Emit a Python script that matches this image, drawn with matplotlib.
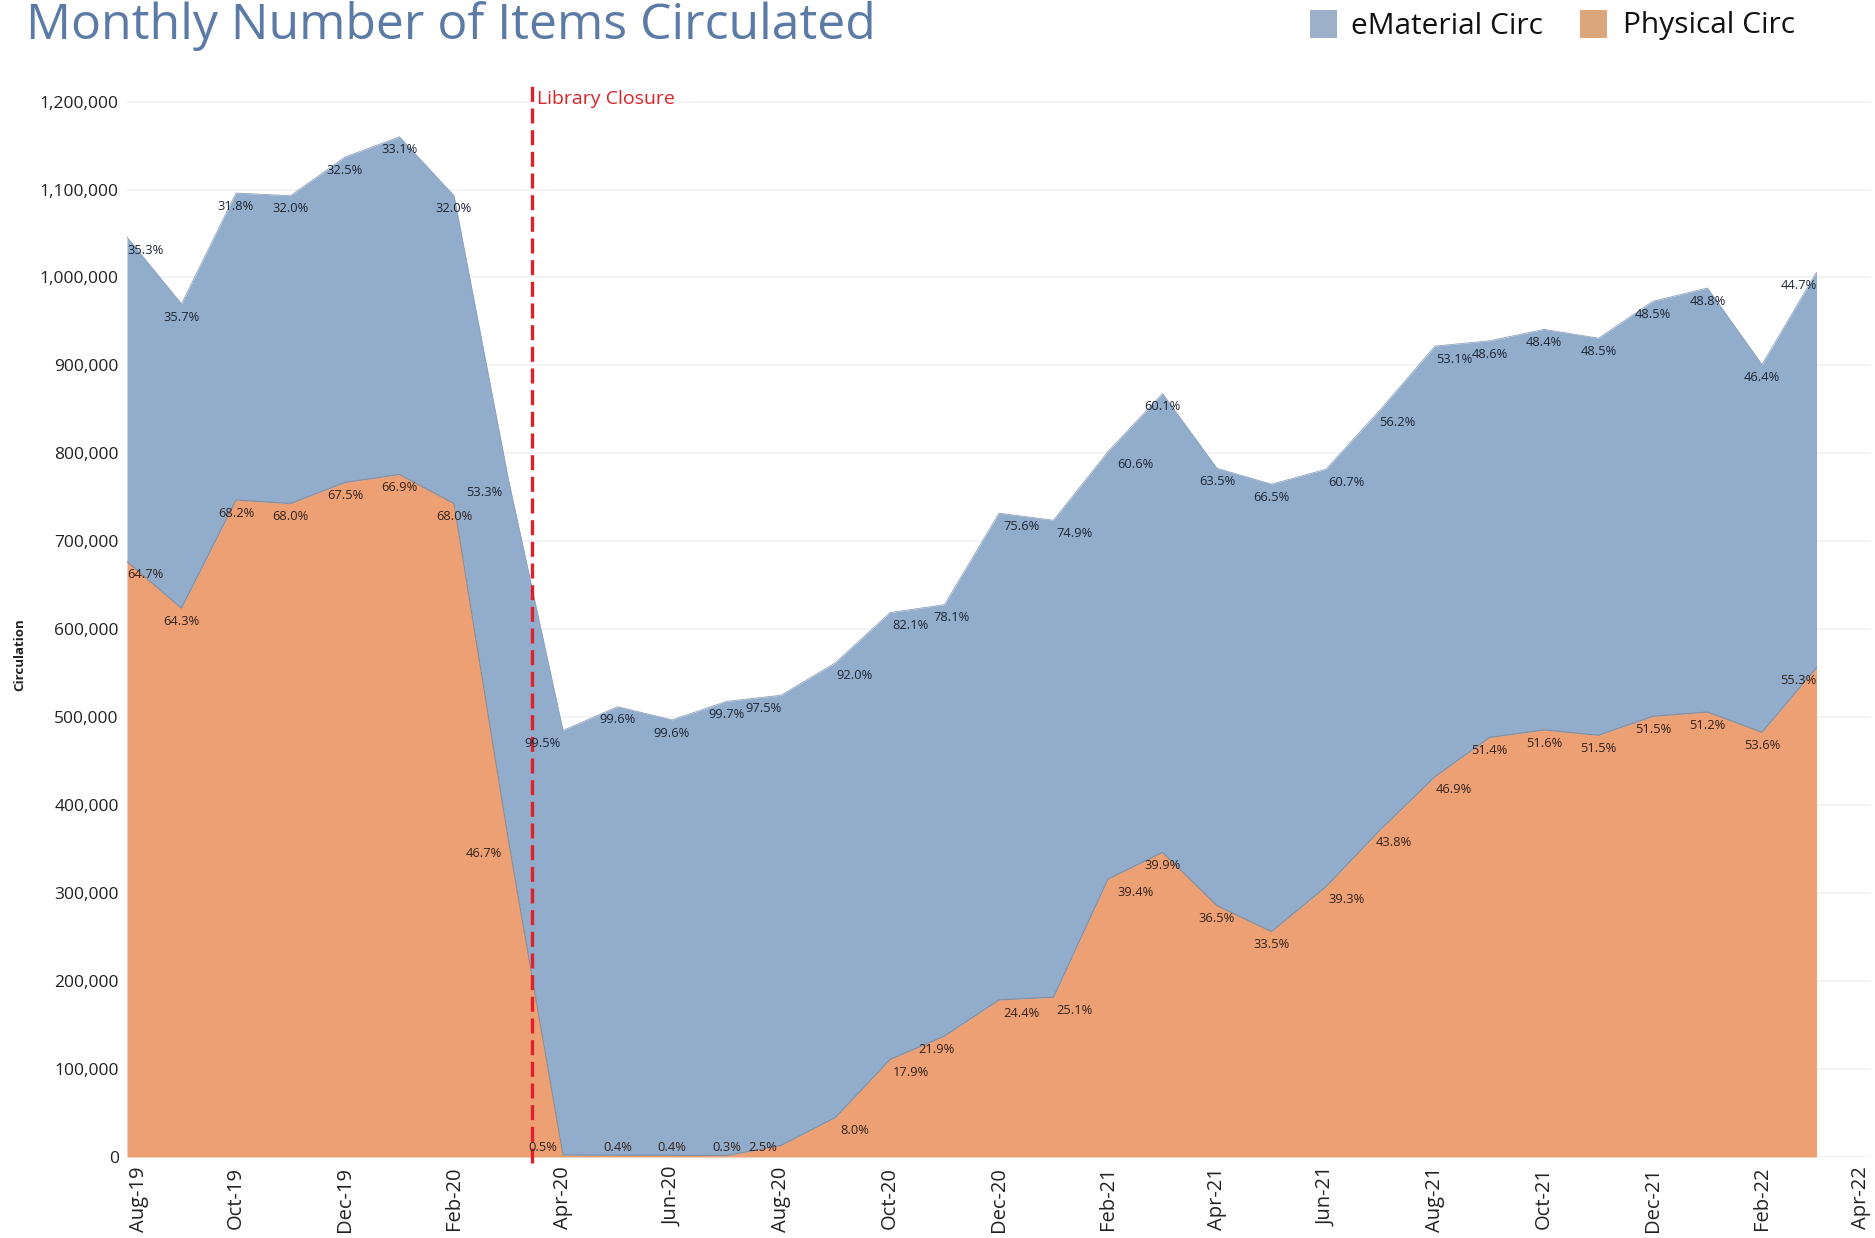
import numpy as np
import matplotlib
matplotlib.use("Agg")
import matplotlib.pyplot as plt
import matplotlib.transforms as mtransforms
from matplotlib.patches import Rectangle
from matplotlib.ticker import FuncFormatter

# monthly circulation, Aug-19 .. Mar-22
months = ["Aug-19", "Sep-19", "Oct-19", "Nov-19", "Dec-19", "Jan-20", "Feb-20", "Mar-20",
          "Apr-20", "May-20", "Jun-20", "Jul-20", "Aug-20", "Sep-20", "Oct-20", "Nov-20",
          "Dec-20", "Jan-21", "Feb-21", "Mar-21", "Apr-21", "May-21", "Jun-21", "Jul-21",
          "Aug-21", "Sep-21", "Oct-21", "Nov-21", "Dec-21", "Jan-22", "Feb-22", "Mar-22"]

physical = [677000, 624000, 747000, 743000, 767000, 776000, 743000, 360000,
            2400, 2000, 2000, 1600, 13100, 45000, 110800, 137500,
            178600, 181700, 316000, 346300, 285800, 256300, 307300, 372300,
            432400, 477000, 485600, 479500, 501100, 505900, 482900, 556300]

ematerial = [369000, 346000, 349000, 350000, 370000, 384000, 350000, 410000,
             482600, 510000, 495000, 516400, 511900, 517000, 508200, 490500,
             553400, 542300, 486000, 521700, 497200, 508700, 474700, 477700,
             489600, 451000, 455400, 451500, 471900, 482100, 418100, 449700]

physical_pct = [64.7, 64.3, 68.2, 68.0, 67.5, 66.9, 68.0, 46.7,
                0.5, 0.4, 0.4, 0.3, 2.5, 8.0, 17.9, 21.9,
                24.4, 25.1, 39.4, 39.9, 36.5, 33.5, 39.3, 43.8,
                46.9, 51.4, 51.6, 51.5, 51.5, 51.2, 53.6, 55.3]

ematerial_pct = [35.3, 35.7, 31.8, 32.0, 32.5, 33.1, 32.0, 53.3,
                 99.5, 99.6, 99.6, 99.7, 97.5, 92.0, 82.1, 78.1,
                 75.6, 74.9, 60.6, 60.1, 63.5, 66.5, 60.7, 56.2,
                 53.1, 48.6, 48.4, 48.5, 48.5, 48.8, 46.4, 44.7]

tick_labels = ["Aug-19", "Oct-19", "Dec-19", "Feb-20", "Apr-20", "Jun-20", "Aug-20", "Oct-20",
               "Dec-20", "Feb-21", "Apr-21", "Jun-21", "Aug-21", "Oct-21", "Dec-21", "Feb-22",
               "Apr-22"]

closure_pos = 7.43  # mid-March 2020

plt.rcParams['font.family'] = ['Open Sans', 'DejaVu Sans']

BLUE = '#92accb'
ORANGE = '#eca074'

W, H = 1875, 1238
fig = plt.figure(figsize=(W / 100, H / 100), dpi=100)
ax = fig.add_axes([127 / W, 1 - 1157 / H, (1871 - 127) / W, (1157 - 84) / H])

x = np.arange(len(months))
phys = np.array(physical)
total = phys + np.array(ematerial)

ax.fill_between(x, 0, phys, color=ORANGE, lw=0, zorder=2)
ax.fill_between(x, phys, total, color=BLUE, lw=0, zorder=2)
ax.plot(x, phys, color='#8a8f9a', lw=0.9, zorder=3)
ax.plot(x, total, color='#8fa3bd', lw=0.6, zorder=3)

ax.set_xlim(0, 32)
ax.set_ylim(0, 1220000)
ax.set_yticks(np.arange(0, 1200001, 100000))
ax.yaxis.set_major_formatter(FuncFormatter(lambda v, p: f"{int(v):,}"))
ax.set_xticks(np.arange(0, 33, 2))
ax.set_xticklabels(tick_labels, rotation=90)
ax.tick_params(axis='both', length=0)
ax.tick_params(axis='y', labelsize=12.5, pad=6, labelcolor='#222222')
ax.tick_params(axis='x', labelsize=14.5, pad=7, labelcolor='#222222')
ax.grid(axis='y', color='#f1f1f1', lw=1.2, zorder=0)
for s in ax.spines.values():
    s.set_visible(False)

# keep first/last tick label inside the view like the original
xt = ax.get_xticklabels()
xt[0].set_transform(xt[0].get_transform() + mtransforms.ScaledTranslation(0.12, 0, fig.dpi_scale_trans))
xt[-1].set_transform(xt[-1].get_transform() + mtransforms.ScaledTranslation(-0.10, 0, fig.dpi_scale_trans))

fig.text(20 / W, 1 - 655 / H, "Circulation", rotation=90, fontsize=9.5, fontweight='bold',
         ha='center', va='center', color='#222222')

# percentage labels, placed just under each point (kept above the baseline);
# some are nudged sideways off the steep segments, as in the original
n = len(months)
LAB_DROP = 15000
LAB_MIN = 11000
nudge_top = {7: -0.45, 8: -0.37, 12: -0.33, 13: 0.35, 14: 0.38, 15: 0.13, 16: 0.42,
             17: 0.38, 18: 0.5, 22: 0.38, 23: 0.3, 24: 0.35}
nudge_bot = dict(nudge_top)
nudge_bot[15] = -0.15
nudge_bot[23] = 0.24
for i in range(n):
    if i == 0:
        ha = 'left'
    elif i == n - 1:
        ha = 'right'
    else:
        ha = 'center'
    ax.text(x[i] + nudge_top.get(i, 0), total[i] - LAB_DROP, f"{ematerial_pct[i]:.1f}%",
            ha=ha, va='center', fontsize=9.3, color='#1e2633', zorder=5)
    ax.text(x[i] + nudge_bot.get(i, 0), max(phys[i] - LAB_DROP, LAB_MIN),
            f"{physical_pct[i]:.1f}%", ha=ha, va='center', fontsize=9.3,
            color='#33221a', zorder=5)

# library closure marker
ax.axvline(closure_pos, ymin=-0.006, ymax=1, color='#e0202a', lw=2.4,
           ls=(0, (4.5, 2)), zorder=4, clip_on=False)
ax.annotate("Library Closure", xy=(closure_pos, 1203000), xytext=(4, 0),
            textcoords='offset points', ha='left', va='center', fontsize=14,
            color='#d9252c', zorder=5)

# title and legend
fig.text(26 / W, 1 - 39 / H, "Monthly Number of Items Circulated", fontsize=36,
         color='#5b7ba6', ha='left', va='baseline')

for (x0, x1, col, label, tx) in [(1310, 1337, '#9db0ca', "eMaterial Circ", 1351),
                                 (1580, 1607, '#dca67d', "Physical Circ", 1623)]:
    fig.patches.append(Rectangle((x0 / W, 1 - 38 / H), (x1 - x0) / W, 28 / H,
                                 transform=fig.transFigure, color=col, lw=0))
    fig.text(tx / W, 1 - 26 / H, label, fontsize=21.5, color='#111111',
             ha='left', va='center')

fig.savefig("out.png", dpi=100)
